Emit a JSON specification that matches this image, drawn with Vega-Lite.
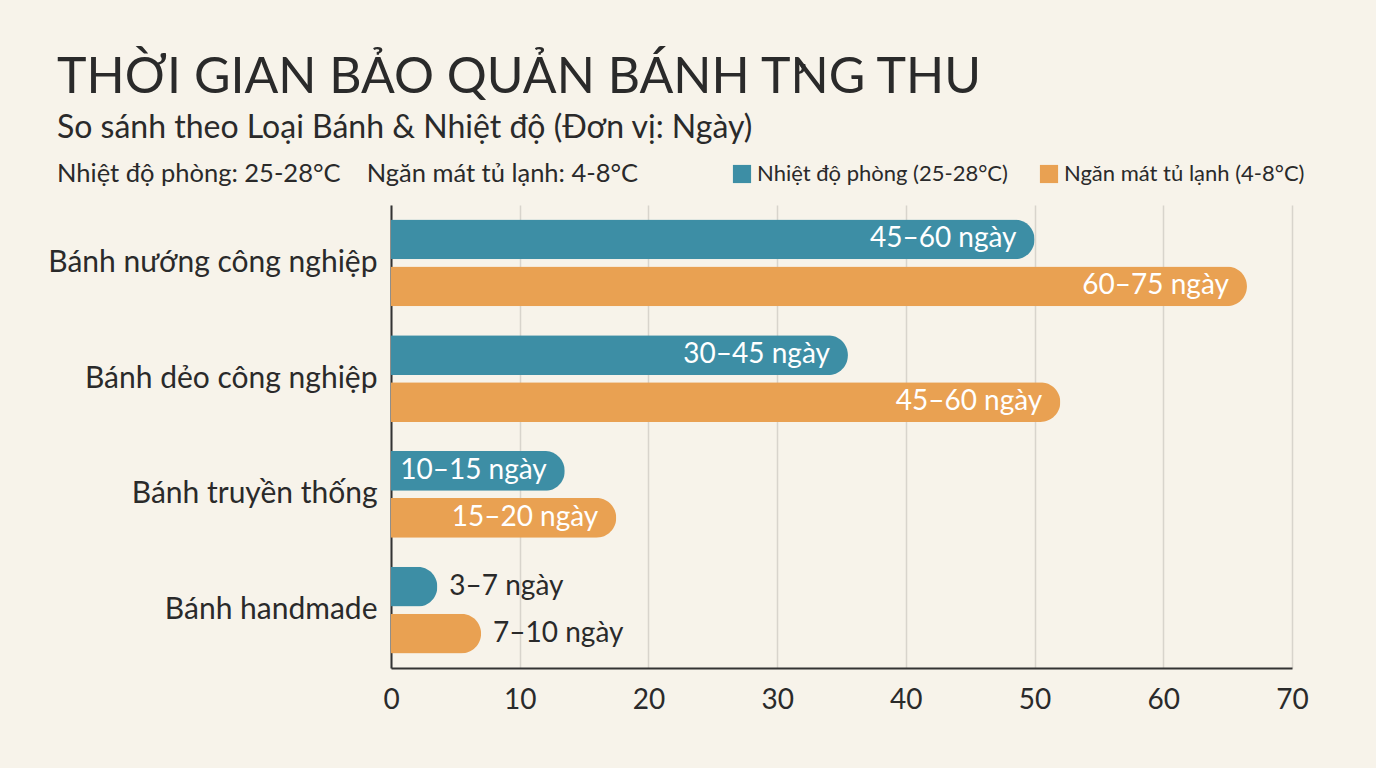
{
  "$schema": "https://vega.github.io/schema/vega-lite/v6.json",
  "description": "Thời gian bảo quản bánh trung thu theo loại bánh và nhiệt độ.",
  "background": "#f7f3ea",
  "width": 901,
  "height": 463,
  "autosize": "none",
  "padding": {"left": 391, "top": 205, "right": 84, "bottom": 100},
  "title": {
    "text": "THỜI GIAN BẢO QUẢN BÁNH T\u031bNG THU",
    "subtitle": "So sánh theo Loại Bánh & Nhiệt độ (Đơn vị: Ngày)",
    "anchor": "start",
    "frame": "group",
    "dx": -334,
    "offset": 19,
    "font": "Lato",
    "fontSize": 50,
    "fontWeight": "normal",
    "color": "#2a2a2a",
    "subtitleFont": "Lato",
    "subtitleFontSize": 32,
    "subtitleColor": "#2a2a2a",
    "subtitlePadding": 10
  },
  "data": {
    "values": [
      {"cake": "Bánh nướng công nghiệp", "series": "Nhiệt độ phòng (25-28°C)", "value": 50, "label": "45–60 ngày"},
      {"cake": "Bánh nướng công nghiệp", "series": "Ngăn mát tủ lạnh (4-8°C)", "value": 66.5, "label": "60–75 ngày"},
      {"cake": "Bánh dẻo công nghiệp", "series": "Nhiệt độ phòng (25-28°C)", "value": 35.5, "label": "30–45 ngày"},
      {"cake": "Bánh dẻo công nghiệp", "series": "Ngăn mát tủ lạnh (4-8°C)", "value": 52, "label": "45–60 ngày"},
      {"cake": "Bánh truyền thống", "series": "Nhiệt độ phòng (25-28°C)", "value": 13.5, "label": "10–15 ngày"},
      {"cake": "Bánh truyền thống", "series": "Ngăn mát tủ lạnh (4-8°C)", "value": 17.5, "label": "15–20 ngày"},
      {"cake": "Bánh handmade", "series": "Nhiệt độ phòng (25-28°C)", "value": 3.6, "label": "3–7 ngày"},
      {"cake": "Bánh handmade", "series": "Ngăn mát tủ lạnh (4-8°C)", "value": 7, "label": "7–10 ngày"}
    ]
  },
  "encoding": {
    "y": {
      "field": "cake",
      "type": "nominal",
      "sort": ["Bánh nướng công nghiệp", "Bánh dẻo công nghiệp", "Bánh truyền thống", "Bánh handmade"],
      "scale": {"paddingInner": 0.25, "paddingOuter": 0.125},
      "axis": {
        "title": null,
        "labelFontSize": 30,
        "labelPadding": 14,
        "labelLimit": 400,
        "labelColor": "#2a2a2a",
        "labelFont": "Lato",
        "ticks": false,
        "domainColor": "#333333",
        "domainWidth": 2
      }
    },
    "yOffset": {
      "field": "series",
      "sort": ["Nhiệt độ phòng (25-28°C)", "Ngăn mát tủ lạnh (4-8°C)"],
      "scale": {"paddingInner": 0.15, "paddingOuter": 0}
    },
    "x": {
      "field": "value",
      "type": "quantitative",
      "scale": {"domain": [0, 70], "nice": false},
      "axis": {
        "title": null,
        "values": [0, 10, 20, 30, 40, 50, 60, 70],
        "grid": true,
        "gridColor": "#d8d4cc",
        "gridWidth": 1.5,
        "ticks": false,
        "labelFlush": false,
        "labelFontSize": 28,
        "labelPadding": 18,
        "labelColor": "#2a2a2a",
        "labelFont": "Lato",
        "domainColor": "#333333",
        "domainWidth": 2
      }
    }
  },
  "layer": [
    {
      "mark": {"type": "bar", "cornerRadiusEnd": 20},
      "encoding": {
        "color": {
          "field": "series",
          "type": "nominal",
          "sort": ["Nhiệt độ phòng (25-28°C)", "Ngăn mát tủ lạnh (4-8°C)"],
          "scale": {"range": ["#3d8ea5", "#e9a152"]},
          "legend": {
            "title": "Nhiệt độ phòng: 25-28°C\u00a0\u00a0\u00a0\u00a0Ngăn mát tủ lạnh: 4-8°C",
            "titleOrient": "left",
            "titleFont": "Lato",
            "titleFontSize": 25.5,
            "titleFontWeight": "normal",
            "titleColor": "#2a2a2a",
            "titlePadding": 92,
            "titleLimit": 700,
            "orient": "none",
            "direction": "horizontal",
            "legendX": -334,
            "legendY": -42,
            "symbolType": "square",
            "symbolSize": 330,
            "symbolStrokeWidth": 0,
            "labelFont": "Lato",
            "labelFontSize": 22,
            "labelColor": "#2a2a2a",
            "labelLimit": 400,
            "columnPadding": 30
          }
        }
      }
    },
    {
      "transform": [{"filter": "datum.value >= 10"}],
      "mark": {"type": "text", "align": "right", "dx": -18, "font": "Lato", "fontSize": 28, "color": "#ffffff"},
      "encoding": {"text": {"field": "label"}}
    },
    {
      "transform": [{"filter": "datum.value < 10"}],
      "mark": {"type": "text", "align": "left", "dx": 12, "font": "Lato", "fontSize": 28, "color": "#2a2a2a"},
      "encoding": {"text": {"field": "label"}}
    }
  ],
  "config": {
    "view": {"stroke": null}
  }
}
